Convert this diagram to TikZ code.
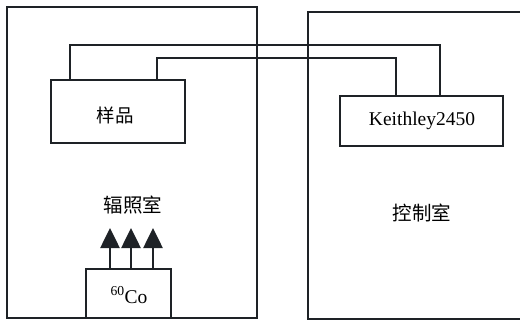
\documentclass[tikz,border=0pt]{standalone}
\usepackage{fontspec}
\setmainfont{Liberation Serif}
\newfontfamily\cjk{Noto Sans CJK SC}
\usetikzlibrary{arrows.meta}
\definecolor{linec}{RGB}{30,34,38}
\tikzset{
  wall/.style={draw=linec, line width=2.8pt},
  box/.style={draw=linec, line width=2.8pt, rectangle, inner sep=0pt, fill=white},
  wire/.style={draw=linec, line width=2.5pt},
  ray/.style={draw=linec, line width=2.6pt, -{Triangle[length=20pt,width=19pt]}},
  lbl/.style={inner sep=0pt, text=black}
}
\begin{document}
\begin{tikzpicture}[x=1pt,y=-1pt]
\clip (0,0) rectangle (520,324);
\fill[white] (0,0) rectangle (520,324);
% rooms
\draw[wall] (7,7) rectangle (257,318);
\draw[wall] (530,12) -- (308,12) -- (308,319) -- (530,319);
% boxes
\node[box, minimum width=134pt, minimum height=63pt] (sample) at (118,111.5) {};
\node[lbl, font=\cjk\fontsize{18.5}{18.5}\selectfont] (sampletxt) at (115,115) {样品};
\node[box, minimum width=163pt, minimum height=50pt] (keithley) at (421.5,121) {};
\node[lbl, font=\fontsize{19.5}{19.5}\selectfont] (keithtxt) at (422,121) {Keithley2450};
\node[box, minimum width=85pt, minimum height=49pt] (co) at (128.5,293.5) {};
\node[lbl, font=\fontsize{19.5}{19.5}\selectfont] (cotxt) at (129,295) {\textsuperscript{60}Co};
% wires
\coordinate (a1) at (70,45);
\coordinate (a2) at (440,45);
\coordinate (b1) at (157,58);
\coordinate (b2) at (396,58);
\draw[wire] (sample.north -| a1) -- (a1) -- (a2) -- (keithley.north -| a2);
\draw[wire] (sample.north -| b1) -- (b1) -- (b2) -- (keithley.north -| b2);
% rays
\coordinate (t1) at (110,228);
\coordinate (t2) at (131,228);
\coordinate (t3) at (153,228);
\draw[ray] (co.north -| t1) -- (t1);
\draw[ray] (co.north -| t2) -- (t2);
\draw[ray] (co.north -| t3) -- (t3);
% room labels
\node[lbl, font=\cjk\fontsize{19.5}{19.5}\selectfont] (irr) at (133,205) {辐照室};
\node[lbl, font=\cjk\fontsize{19.5}{19.5}\selectfont] (ctrl) at (422,213) {控制室};
\end{tikzpicture}
\end{document}
